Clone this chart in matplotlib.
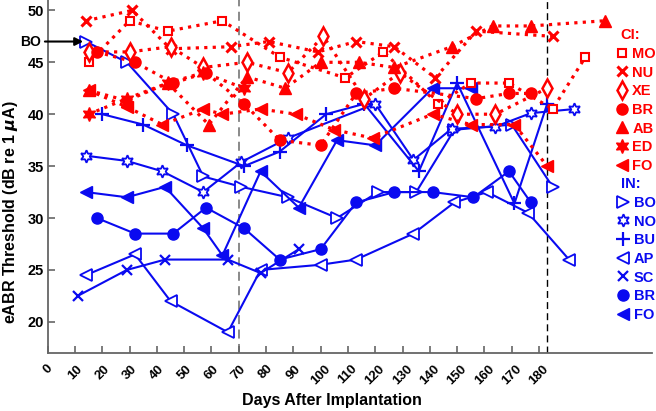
import matplotlib
matplotlib.use('Agg')
import matplotlib.pyplot as plt
from matplotlib.lines import Line2D

plt.rcParams['font.family'] = ['Liberation Sans', 'DejaVu Sans']
plt.rcParams['font.weight'] = 'bold'
plt.rcParams['mathtext.default'] = 'it'

# ---------------- data (CI group, red, dotted) ----------------
MO_days = [15, 30, 44, 64, 85, 109, 123, 143, 155, 169, 185, 197]
MO_vals = [45, 49, 48, 49, 45.5, 43.5, 46, 41, 43, 43, 40.5, 45.5]

NU_days = [14, 31, 45, 67, 81, 99, 113, 127, 142, 157, 185]
NU_vals = [49, 50, 46.3, 46.5, 47, 46, 47, 46.5, 43.5, 48, 47.5]

XE_days = [15, 30, 45, 57, 73, 88, 101, 116, 129, 150, 164, 183]
XE_vals = [46, 46, 46.5, 44.5, 45, 44, 47.5, 41.5, 44, 40, 40, 42.5]

BRci_days = [18, 32, 46, 58, 72, 85, 100, 113, 127, 157, 169, 177]
BRci_vals = [46, 45, 43, 44, 41, 37.5, 37, 42, 42.5, 41.5, 42, 42]

AB_days = [15, 29, 44, 59, 73, 87, 100, 114, 127, 148, 163, 177, 204]
AB_vals = [42.3, 41.3, 43, 39, 43.6, 42.5, 45, 45, 44.5, 46.5, 48.5, 48.5, 49]

ED_days = [15, 29, 44, 57, 72]
ED_vals = [40, 41.5, 43, 44, 42.5]

FOci_days = [15, 29, 42, 57, 64, 78, 91, 105, 119, 141, 155, 171, 183]
FOci_vals = [42.3, 40.7, 39, 40.5, 40, 40.5, 40, 38.5, 37.7, 40, 39, 39, 35]

# ---------------- data (IN group, blue, solid) ----------------
BO_days = [14, 29, 46, 57, 71, 88, 106, 121, 135, 149, 170, 185]
BO_vals = [47, 45, 40, 34, 33, 32, 30, 32.5, 32.5, 38.5, 39, 33]

NO_days = [14, 29, 42, 57, 71, 88, 120, 134, 148, 164, 177, 193]
NO_vals = [36, 35.5, 34.5, 32.5, 35.4, 37.7, 41, 35.6, 38.6, 38.8, 40.1, 40.5]

BU_days = [20, 35, 51, 72, 85, 102, 116, 136, 150, 171, 183]
BU_vals = [40, 39, 37, 35, 36.4, 40, 41, 34.5, 43, 31.4, 41]

AP_days = [14, 32, 45, 66, 78, 100, 113, 134, 149, 161, 176, 191]
AP_vals = [24.5, 26.5, 22, 19, 25, 25.5, 26, 28.5, 31.5, 32.5, 30.5, 26]

SC_days = [11, 29, 43, 66, 78, 92]
SC_vals = [22.5, 25, 26, 26, 24.7, 27]

BRin_days = [18, 32, 46, 58, 72, 85, 100, 113, 127, 141, 156, 169, 177]
BRin_vals = [30, 28.5, 28.5, 31, 29, 26, 27, 31.5, 32.5, 32.5, 32, 34.5, 31.5]

FOin_days = [14, 29, 43, 57, 64, 78, 92, 106, 120, 141, 155]
FOin_vals = [32.5, 32, 33, 29, 26.4, 34.5, 31, 37.5, 37, 42.5, 42.5]

x_ticks = list(range(0, 190, 10))
y_ticks = [20, 25, 30, 35, 40, 45, 50]

RED = '#ff0000'
BLUE = '#0a0af0'
STAR6 = (6, 1, 0)

ci_series = [
    ('MO', MO_days, MO_vals, dict(marker='s', ms=5.5, mfc='white', mew=1.5)),
    ('NU', NU_days, NU_vals, dict(marker='x', ms=7, mew=2.2)),
    ('XE', XE_days, XE_vals, dict(marker='d', ms=9, mfc='white', mew=1.8)),
    ('BR', BRci_days, BRci_vals, dict(marker='o', ms=8, mfc=RED)),
    ('AB', AB_days, AB_vals, dict(marker='^', ms=9, mfc=RED)),
    ('ED', ED_days, ED_vals, dict(marker=STAR6, ms=10, mfc=RED)),
    ('FO', FOci_days, FOci_vals, dict(marker='<', ms=9, mfc=RED)),
]
in_series = [
    ('BO', BO_days, BO_vals, dict(marker='>', ms=8, mfc='white', mew=1.3)),
    ('NO', NO_days, NO_vals, dict(marker=STAR6, ms=9, mfc='white', mew=1.3)),
    ('BU', BU_days, BU_vals, dict(marker='+', ms=10, mew=1.6)),
    ('AP', AP_days, AP_vals, dict(marker='<', ms=8, mfc='white', mew=1.3)),
    ('SC', SC_days, SC_vals, dict(marker='x', ms=6.5, mew=1.6)),
    ('BR', BRin_days, BRin_vals, dict(marker='o', ms=8, mfc=BLUE)),
    ('FO', FOin_days, FOin_vals, dict(marker='<', ms=9, mfc=BLUE)),
]

fig = plt.figure(figsize=(6.56, 4.11), dpi=100)
ax = fig.add_axes([47.7 / 656, 58 / 411, (652 - 47.7) / 656, 353 / 411])

ax.axvline(70, color='#808080', ls=(0, (5, 3)), lw=1.3, zorder=1)
ax.axvline(183, color='black', ls=(0, (5, 3)), lw=1.0, zorder=1)

for name, d, v, st in ci_series:
    ax.plot(d, v, color=RED, ls=':', lw=2.3, mec=RED, zorder=3, **st)
for name, d, v, st in in_series:
    ax.plot(d, v, color=BLUE, ls='-', lw=1.5, mec=BLUE, zorder=2, **st)

ax.set_xlim(0, 221.4)
ax.set_ylim(17, 51)
ax.set_xticks(x_ticks)
ax.set_xticklabels([str(t) for t in x_ticks], rotation=45, fontsize=9.5, fontweight='bold')
ax.set_yticks(y_ticks)
ax.set_yticklabels([str(t) for t in y_ticks], fontsize=10.5, fontweight='bold')
ax.tick_params(direction='in', length=5, color='#666666', width=1.2)
ax.tick_params(axis='x', pad=7)
ax.tick_params(axis='y', pad=2.5)
for s in ['top', 'right']:
    ax.spines[s].set_visible(False)
for s in ['left', 'bottom']:
    ax.spines[s].set_color('#666666')
    ax.spines[s].set_linewidth(1.3)

ax.set_xlabel('Days After Implantation', fontsize=11.5, fontweight='bold')
ax.xaxis.set_label_coords(0.47, -0.112)
ax.set_ylabel(r'eABR Threshold (dB re 1 $\mu$A)', fontsize=11.5, fontweight='bold')
ax.yaxis.set_label_coords(-0.046, 0.40)

ax.annotate('BO', xy=(BO_days[0] - 1.0, BO_vals[0]), xytext=(-10.2, BO_vals[0]),
            ha='left', va='center', fontsize=10, fontweight='bold',
            annotation_clip=False,
            arrowprops=dict(arrowstyle='-|>', color='black', lw=1.5,
                            mutation_scale=12, shrinkA=1, shrinkB=0))

def handles(series, color):
    hs = []
    for name, d, v, st in series:
        hs.append(Line2D([], [], color=color, ls='None', mec=color, **st))
    return hs

common = dict(frameon=False, loc='upper left', handlelength=0.3, handletextpad=0.55,
              borderpad=0, borderaxespad=0, labelspacing=0.32,
              prop={'weight': 'bold', 'size': 10.5}, alignment='left',
              title_fontproperties={'weight': 'bold', 'size': 10.5})
leg1 = ax.legend(handles(ci_series, RED), [s[0] for s in ci_series], title='CI:',
                 bbox_to_anchor=(0.947, 0.920), labelcolor=RED, **common)
leg1.get_title().set_color(RED)
ax.add_artist(leg1)
leg2 = ax.legend(handles(in_series, BLUE), [s[0] for s in in_series], title='IN:',
                 bbox_to_anchor=(0.949, 0.498), labelcolor=BLUE, **common)
leg2.get_title().set_color(BLUE)

fig.savefig('out.png', dpi=100)
